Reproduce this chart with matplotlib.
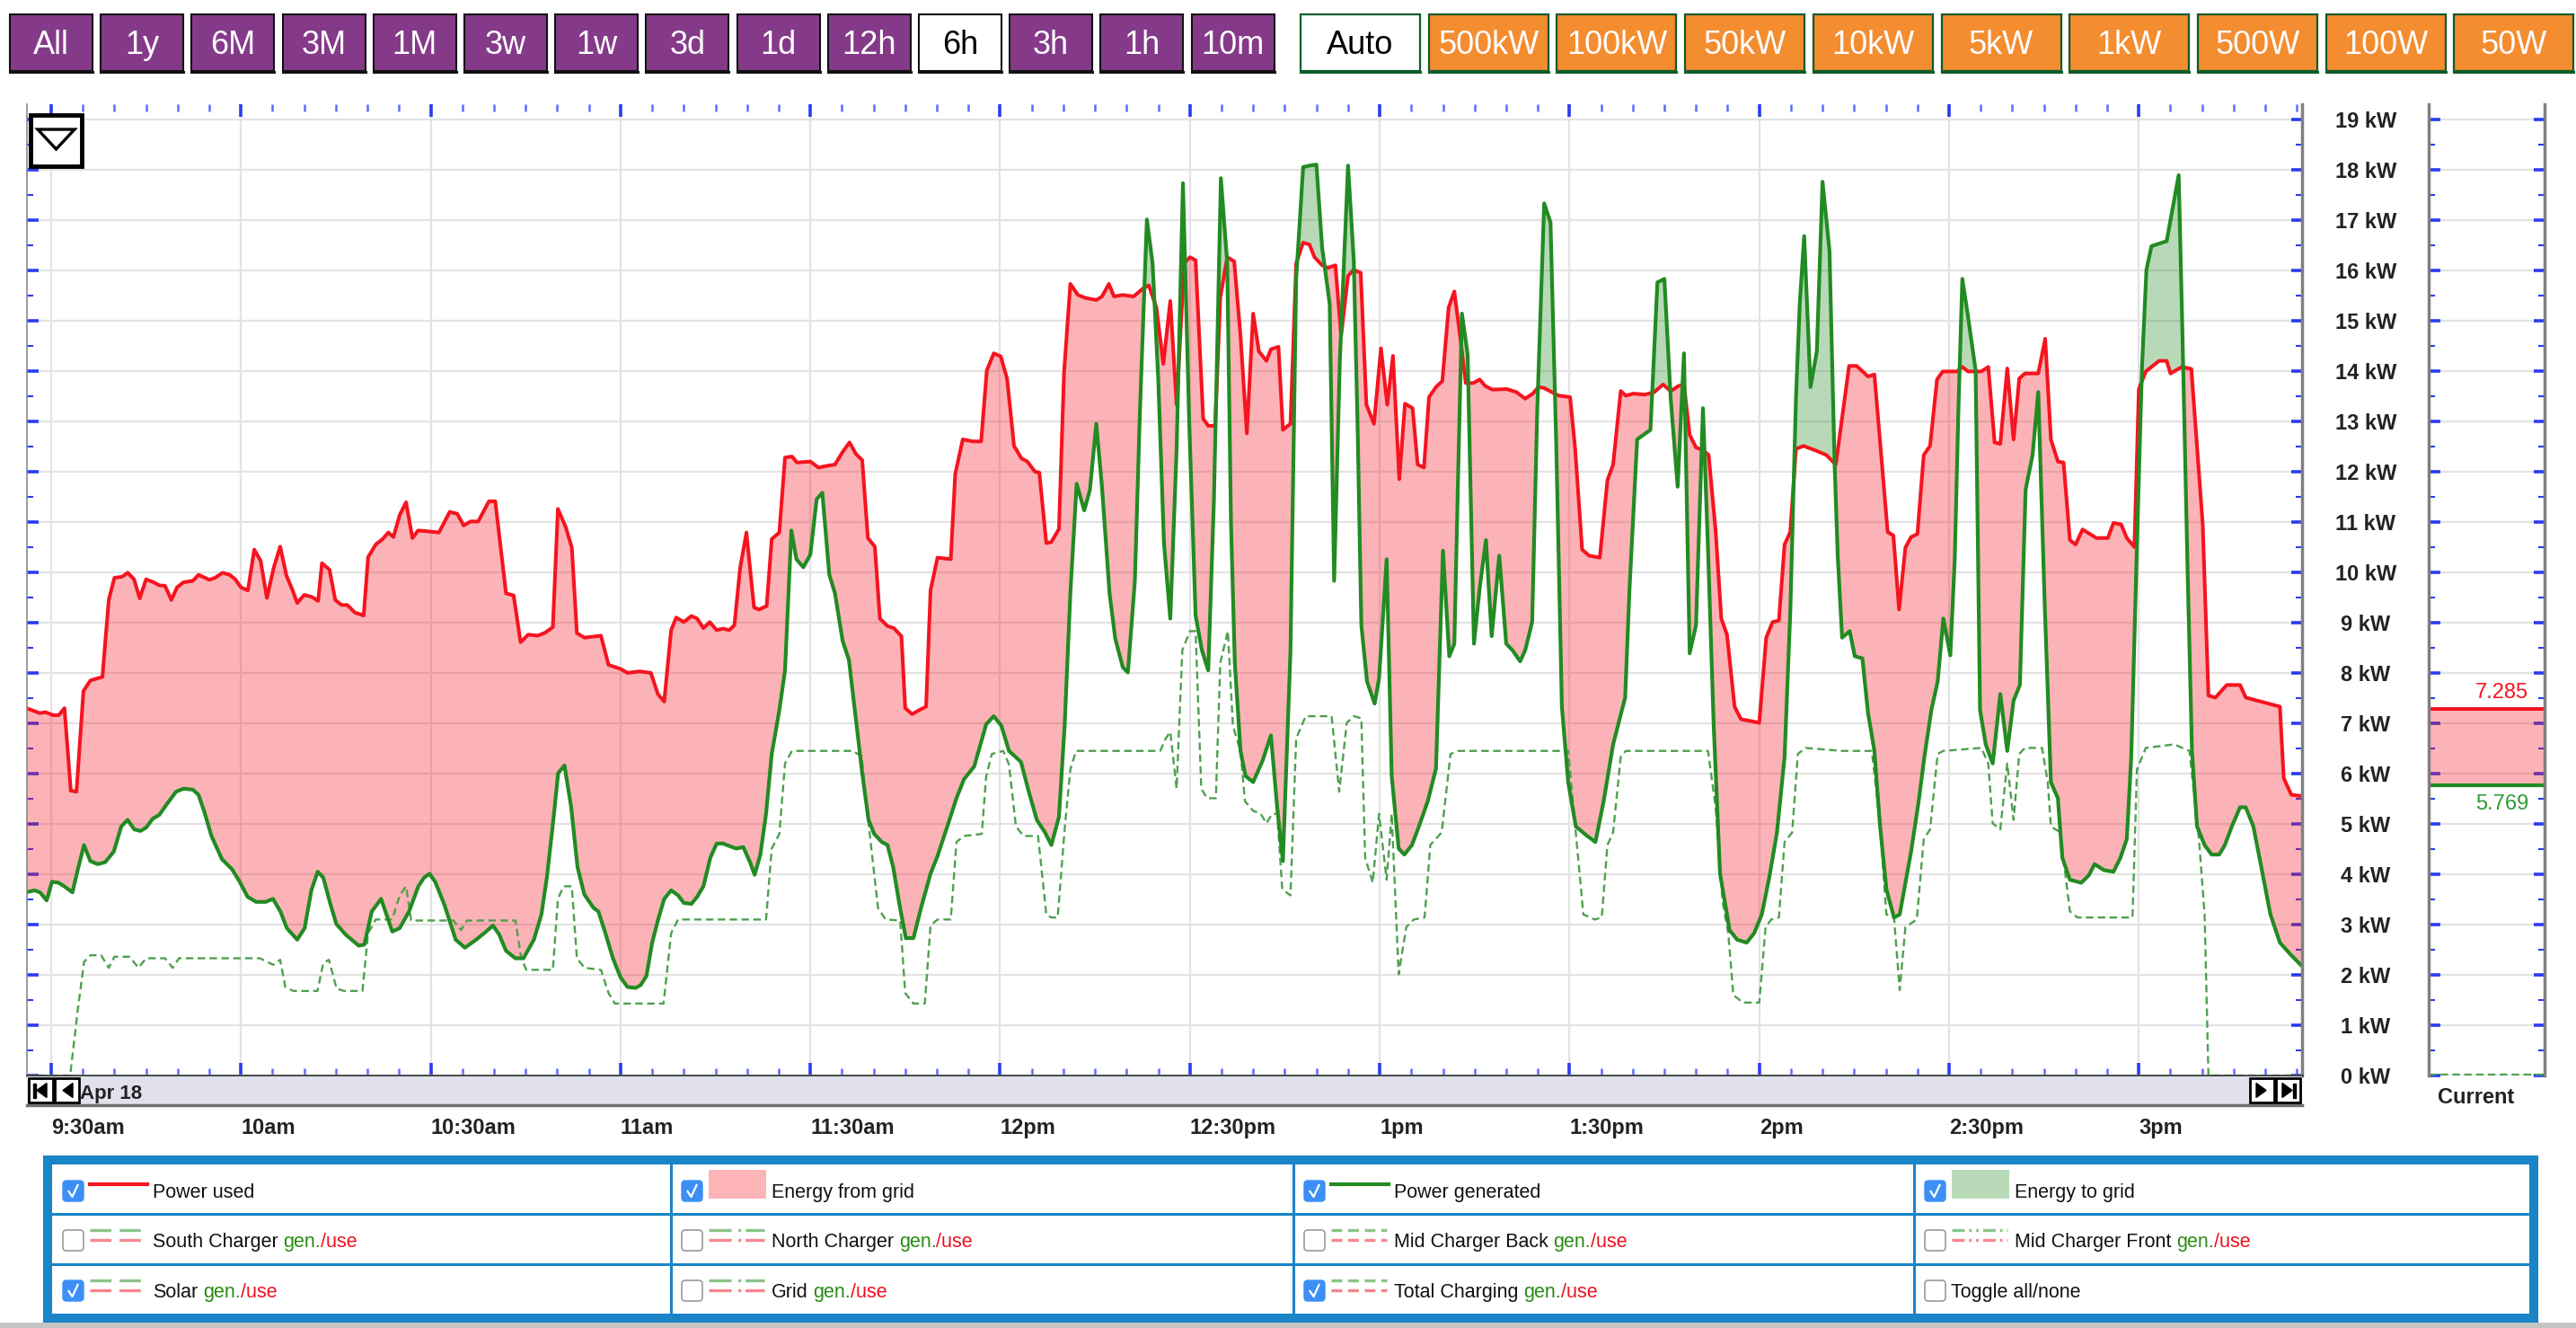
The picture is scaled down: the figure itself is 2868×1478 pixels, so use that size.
import numpy as np
import matplotlib.pyplot as plt
from matplotlib.patches import Rectangle, FancyBboxPatch, Polygon

plt.rcParams['font.family'] = ['Liberation Sans', 'DejaVu Sans']
plt.rcParams['lines.scale_dashes'] = False

# time = minutes after 9:30am (Apr 18), power in kW
used_t = [-3.9, -1.8, -0.9, 0.3, 1.2, 2.1, 3.1, 4.0, 5.1, 6.2, 8.1, 9.1, 10.0, 11.2, 12.1, 13.1, 14.0, 15.0,
          16.2, 17.1, 18.0, 19.0, 19.9, 20.9, 22.4, 23.3, 25.0, 25.9, 27.1, 28.2, 29.1, 30.0, 31.1, 32.1,
          33.1, 34.1, 35.2, 36.2, 37.2, 38.1, 38.9, 40.0, 41.2, 42.2, 42.8, 44.0, 44.9, 45.9, 46.8, 48.0,
          49.4, 50.1, 51.3, 52.4, 53.3, 54.1, 55.1, 56.1, 57.1, 58.0, 59.8, 61.3, 63.0, 64.2, 65.2, 66.3,
          67.5, 69.2, 70.2, 71.9, 73.1, 74.2, 75.4, 76.9, 78.1, 79.3, 80.1, 81.3, 82.3, 83.1, 84.3, 86.9,
          88.1, 90.0, 91.1, 93.0, 94.8, 95.9, 96.9, 98.0, 98.8, 100.0, 101.2, 102.1, 103.1, 104.1, 105.2,
          106.2, 107.2, 108.0, 108.9, 109.9, 111.1, 111.9, 113.1, 113.9, 115.1, 116.0, 117.1, 117.9, 120.0,
          121.3, 122.4, 123.9, 125.1, 126.2, 127.2, 128.2, 129.1, 130.2, 131.0, 132.2, 133.2, 134.4, 135.0,
          136.1, 137.2, 138.3, 139.0, 140.1, 142.2, 142.9, 144.1, 145.7, 147.0, 147.9, 149.0, 150.1, 151.1,
          152.2, 153.4, 154.3, 155.5, 156.2, 157.3, 158.1, 159.3, 160.1, 161.1, 162.3, 163.5, 165.2, 166.1,
          167.2, 168.0, 169.4, 171.1, 172.6, 173.5, 174.7, 175.8, 176.9, 177.9, 179.1, 180.0, 180.9, 182.1,
          182.9, 184.0, 184.8, 185.9, 187.0, 188.0, 189.0, 190.0, 190.9, 192.1, 192.8, 194.0, 194.7, 195.9,
          196.8, 197.9, 198.9, 199.7, 200.9, 201.8, 203.0, 203.9, 205.0, 205.9, 207.0, 207.9, 209.1, 210.2,
          211.2, 212.1, 213.1, 214.0, 215.2, 216.0, 217.0, 217.8, 218.9, 219.9, 220.9, 221.8, 222.7, 223.6,
          224.8, 225.8, 226.7, 227.8, 230.1, 231.6, 233.0, 234.2, 235.1, 236.0, 237.2, 238.3, 240.1, 240.9,
          242.0, 243.1, 244.8, 246.0, 246.9, 248.1, 248.9, 250.1, 251.9, 253.4, 254.8, 256.0, 257.2, 258.1,
          259.0, 260.0, 261.0, 262.0, 263.1, 264.0, 264.9, 266.1, 267.1, 270.0, 271.1, 272.1, 273.1, 274.0,
          274.9, 275.8, 277.0, 279.1, 280.6, 282.1, 284.2, 285.4, 287.2, 288.2, 289.2, 290.3, 291.2, 292.1,
          293.1, 294.0, 295.0, 296.0, 297.0, 298.1, 299.0, 301.3, 302.1, 303.0, 305.1, 306.2, 307.2, 308.1,
          309.2, 310.2, 311.1, 312.0, 314.1, 315.2, 316.1, 317.2, 318.1, 319.1, 320.0, 321.1, 323.3, 325.1,
          326.0, 327.2, 328.1, 329.3, 330.0, 331.1, 333.2, 334.4, 335.0, 336.8, 338.3, 340.1, 341.0, 342.1,
          343.9, 346.0, 346.9, 349.3, 352.3, 352.9, 354.1, 355.9]
used_kw = [7.3, 7.2, 7.22, 7.16, 7.16, 7.3, 5.66, 5.64, 7.64, 7.85, 7.92, 9.45, 9.89, 9.91, 9.99, 9.86, 9.48,
           9.86, 9.8, 9.74, 9.73, 9.45, 9.7, 9.8, 9.83, 9.95, 9.85, 9.89, 9.99, 9.95, 9.86, 9.7, 9.64, 10.45,
           10.23, 9.49, 10.1, 10.51, 9.93, 9.66, 9.39, 9.55, 9.51, 9.43, 10.18, 10.05, 9.45, 9.35, 9.35, 9.2,
           9.14, 10.3, 10.55, 10.66, 10.79, 10.7, 11.14, 11.39, 10.68, 10.83, 10.81, 10.79, 11.2, 11.16, 10.93,
           11.01, 11.01, 11.41, 11.41, 9.58, 9.54, 8.61, 8.76, 8.74, 8.8, 8.91, 11.26, 10.91, 10.49, 8.79, 8.7,
           8.74, 8.16, 8.08, 8.0, 8.03, 8.0, 7.58, 7.43, 8.85, 9.1, 9.01, 9.13, 9.08, 8.89, 9.01, 8.85, 8.88,
           8.85, 8.95, 10.08, 10.79, 9.3, 9.26, 9.33, 10.66, 10.79, 12.28, 12.3, 12.18, 12.2, 12.08, 12.11,
           12.14, 12.39, 12.58, 12.35, 12.23, 10.68, 10.51, 9.08, 8.93, 8.89, 8.73, 7.3, 7.18, 7.26, 7.33,
           9.64, 10.29, 10.26, 11.95, 12.64, 12.6, 12.6, 14.01, 14.35, 14.29, 13.85, 12.51, 12.26, 12.2, 12.0,
           11.98, 10.58, 10.6, 10.86, 13.95, 15.73, 15.51, 15.45, 15.41, 15.48, 15.73, 15.48, 15.51, 15.48,
           15.64, 15.7, 15.26, 14.14, 15.39, 13.33, 16.14, 16.26, 16.2, 13.05, 12.91, 12.91, 15.45, 16.26,
           16.18, 14.7, 12.76, 15.14, 14.39, 14.2, 14.43, 14.48, 12.83, 12.95, 16.14, 16.55, 16.51, 16.26,
           16.1, 16.05, 16.1, 14.7, 15.89, 16.01, 15.95, 13.33, 12.95, 14.45, 13.33, 14.3, 11.85, 13.35, 13.26,
           12.14, 12.08, 13.48, 13.68, 13.8, 15.26, 15.58, 14.7, 13.76, 13.76, 13.83, 13.7, 13.63, 13.64,
           13.58, 13.45, 13.55, 13.68, 13.66, 13.58, 13.51, 13.48, 12.45, 10.45, 10.33, 10.29, 11.83, 12.14,
           13.6, 13.51, 13.55, 13.53, 13.58, 13.73, 13.6, 13.7, 13.73, 12.73, 12.48, 12.43, 12.33, 10.83, 9.08,
           8.76, 7.33, 7.08, 7.01, 8.7, 9.01, 9.04, 10.55, 10.8, 12.45, 12.51, 12.41, 12.33, 12.14, 14.1, 14.1,
           13.89, 13.93, 12.45, 10.8, 10.73, 9.26, 10.49, 10.7, 10.76, 12.33, 12.51, 13.83, 13.99, 13.99,
           14.08, 13.99, 13.99, 14.08, 12.58, 12.55, 14.05, 12.64, 13.85, 13.95, 13.95, 14.64, 12.64, 12.2,
           12.18, 10.64, 10.55, 10.85, 10.68, 10.68, 10.98, 10.95, 10.68, 10.5, 13.64, 13.99, 14.2, 14.2,
           13.95, 14.08, 14.04, 10.95, 7.55, 7.51, 7.76, 7.76, 7.51, 7.43, 7.33, 5.91, 5.58, 5.55]

gen_t = [-3.9, -2.65, -1.77, -0.71, 0.12, 1.18, 2.06, 3.36, 4.3, 5.19, 6.19, 7.37, 8.54, 9.9, 11.08, 12.08,
         13.14, 14.14, 15.03, 16.03, 17.09, 18.27, 19.74, 20.92, 22.39, 23.28, 24.16, 25.34, 26.99, 28.58,
         29.76, 31.05, 32.41, 33.88, 35.06, 36.24, 37.24, 38.89, 40.07, 41.13, 42.13, 43.02, 44.08, 45.08,
         46.55, 48.62, 49.5, 50.68, 52.15, 53.92, 55.1, 56.57, 58.04, 58.93, 59.81, 60.7, 62.17, 63.94, 65.41,
         67.18, 68.65, 69.83, 70.83, 71.89, 73.37, 74.66, 76.31, 77.49, 78.37, 79.38, 80.14, 81.14, 82.2,
         83.2, 84.27, 85.74, 86.5, 87.6, 88.8, 90.0, 91.1, 92.4, 93.2, 94.1, 95.0, 95.9, 96.9, 98.0, 99.1,
         100.0, 101.2, 102.1, 103.1, 104.2, 105.2, 106.2, 107.4, 108.3, 109.4, 110.4, 111.2, 112.1, 113.0,
         113.9, 115.1, 116.0, 117.0, 117.8, 118.9, 120.0, 121.0, 121.9, 123.0, 123.9, 125.1, 126.1, 127.2,
         128.2, 129.2, 130.1, 131.3, 132.2, 133.1, 134.1, 135.1, 136.3, 137.5, 139.0, 140.1, 141.6, 143.1,
         144.3, 145.9, 146.6, 147.8, 149.0, 150.2, 151.4, 153.3, 154.4, 155.8, 157.1, 158.1, 159.3, 160.2,
         161.1, 162.1, 163.3, 164.2, 165.2, 166.1, 167.3, 168.2, 169.4, 170.2, 171.3, 172.1, 173.2, 174.1,
         175.0, 175.9, 176.9, 177.9, 178.9, 179.9, 180.9, 181.9, 182.9, 183.8, 184.9, 185.9, 186.5, 187.1,
         188.0, 188.8, 190.0, 191.5, 192.8, 193.8, 194.7, 195.9, 196.8, 197.9, 198.9, 200.0, 200.9, 202.1,
         202.8, 203.7, 205.0, 205.9, 206.5, 207.1, 208.0, 209.2, 209.9, 211.1, 211.9, 213.0, 213.9, 215.1,
         216.2, 217.6, 218.9, 220.0, 221.0, 221.8, 222.4, 223.0, 223.9, 224.9, 225.8, 226.8, 227.7, 228.9,
         230.0, 231.0, 232.2, 233.0, 234.1, 234.9, 236.0, 237.0, 237.9, 238.8, 239.8, 241.0, 242.8, 244.1,
         245.4, 246.9, 248.8, 249.5, 250.7, 252.8, 253.9, 255.0, 256.0, 257.1, 258.1, 259.0, 260.0, 261.1,
         261.9, 262.8, 263.8, 264.9, 265.3, 266.5, 268.0, 269.2, 270.4, 271.6, 272.8, 274.0, 274.9, 275.8,
         276.4, 277.1, 278.1, 279.1, 280.0, 281.1, 281.9, 282.4, 283.1, 284.3, 285.1, 286.3, 287.2, 288.2,
         289.1, 290.1, 291.3, 292.2, 293.1, 294.0, 295.2, 296.1, 297.2, 298.2, 299.1, 300.2, 300.9, 301.5,
         302.1, 303.0, 304.2, 304.9, 305.8, 306.9, 308.1, 309.2, 310.2, 311.2, 312.1, 313.2, 314.1, 315.1,
         316.1, 317.2, 317.9, 319.1, 320.9, 322.1, 323.0, 324.5, 326.0, 327.1, 328.1, 328.8, 329.6, 330.5,
         331.2, 332.0, 334.4, 336.3, 336.9, 337.7, 338.4, 339.2, 340.4, 341.5, 342.7, 343.6, 344.7, 346.0,
         346.9, 348.1, 349.3, 350.8, 352.3, 354.1, 355.9]
gen_kw = [3.64, 3.68, 3.64, 3.48, 3.85, 3.83, 3.76, 3.64, 4.14, 4.58, 4.26, 4.2, 4.24, 4.45, 4.95, 5.08, 4.89,
          4.86, 4.93, 5.1, 5.18, 5.39, 5.64, 5.7, 5.68, 5.58, 5.26, 4.76, 4.3, 4.1, 3.86, 3.55, 3.45, 3.45,
          3.51, 3.26, 2.93, 2.7, 2.93, 3.68, 4.05, 3.93, 3.43, 3.01, 2.8, 2.58, 2.6, 3.26, 3.51, 2.86, 2.93,
          3.26, 3.76, 3.93, 4.01, 3.85, 3.39, 2.7, 2.54, 2.7, 2.85, 2.98, 2.8, 2.48, 2.33, 2.33, 2.7, 3.2,
          3.95, 5.08, 6.01, 6.16, 5.33, 4.14, 3.6, 3.33, 3.26, 2.83, 2.33, 1.95, 1.76, 1.74, 1.8, 1.98, 2.64,
          3.08, 3.51, 3.68, 3.58, 3.43, 3.41, 3.55, 3.76, 4.33, 4.61, 4.61, 4.55, 4.51, 4.54, 4.26, 3.99, 4.39,
          5.2, 6.39, 7.26, 8.05, 10.83, 10.26, 10.1, 10.35, 11.45, 11.58, 9.95, 9.58, 8.64, 8.26, 7.08, 6.01,
          5.08, 4.8, 4.64, 4.58, 4.14, 3.39, 2.73, 2.73, 3.33, 4.01, 4.36, 4.93, 5.51, 5.89, 6.14, 6.45, 6.98,
          7.14, 6.95, 6.45, 6.23, 5.7, 5.08, 4.83, 4.58, 5.14, 6.95, 9.58, 11.76, 11.23, 11.64, 12.95, 11.7,
          9.58, 8.68, 8.11, 8.01, 9.83, 13.2, 17.01, 16.14, 13.83, 10.58, 9.08, 12.45, 17.73, 12.95, 9.14,
          8.45, 8.05, 11.45, 17.83, 16.14, 10.95, 8.2, 6.45, 5.95, 5.83, 6.26, 6.76, 5.33, 4.26, 8.45, 15.83,
          18.05, 18.08, 18.1, 16.45, 15.33, 9.83, 14.2, 18.08, 16.2, 12.95, 8.95, 7.83, 7.39, 7.89, 10.26,
          5.95, 4.51, 4.39, 4.58, 4.95, 5.45, 6.1, 10.43, 8.33, 8.58, 11.95, 15.14, 14.33, 8.58, 9.68, 10.64,
          8.73, 10.33, 8.58, 8.45, 8.23, 8.45, 9.01, 13.2, 17.33, 16.95, 12.58, 7.33, 5.83, 4.95, 4.76, 4.64,
          5.45, 6.58, 7.51, 9.7, 12.64, 12.83, 15.76, 15.83, 13.45, 11.7, 14.35, 8.39, 8.95, 13.26, 10.45,
          6.95, 4.01, 3.2, 2.89, 2.7, 2.64, 2.83, 3.2, 3.95, 4.83, 6.33, 9.2, 13.45, 15.33, 16.68, 13.68, 14.39,
          17.76, 16.39, 12.2, 10.33, 8.7, 8.83, 8.33, 8.29, 7.2, 6.45, 4.95, 3.7, 3.14, 3.2, 3.83, 4.45, 5.45,
          6.33, 7.26, 7.83, 9.08, 8.35, 10.26, 13.33, 15.83, 15.08, 14.01, 7.26, 6.58, 6.2, 7.58, 6.45, 7.45,
          7.76, 11.64, 12.33, 13.58, 9.45, 5.83, 5.51, 4.33, 3.89, 3.83, 3.98, 4.2, 4.08, 4.05, 4.33, 4.7,
          6.33, 10.08, 14.08, 16.01, 16.48, 16.58, 17.89, 14.7, 10.08, 6.45, 4.95, 4.58, 4.39, 4.39, 4.58,
          4.95, 5.33, 5.33, 4.95, 4.18, 3.2, 2.64, 2.39, 2.16]

charge_t = [-3.9, 3.0, 4.2, 5.2, 6.2, 7.9, 9.1, 10.0, 12.4, 13.8, 15.0, 18.0, 19.2, 20.2, 33.0, 35.1, 36.2, 37.0,
            38.3, 42.1, 43.0, 43.9, 45.1, 46.3, 49.2, 50.1, 51.3, 53.9, 55.1, 56.1, 56.9, 63.6, 64.8, 65.7,
            73.4, 74.3, 75.1, 79.3, 80.1, 81.0, 82.3, 83.1, 84.3, 86.9, 88.1, 89.1, 96.8, 98.0, 99.1, 113.0,
            113.9, 115.1, 116.0, 117.1, 126.6, 128.1, 129.2, 130.7, 131.9, 134.2, 135.0, 136.3, 138.1, 139.0,
            140.1, 142.2, 143.1, 144.3, 147.1, 147.8, 148.7, 150.5, 151.4, 152.5, 153.7, 156.0, 157.3, 158.1,
            159.1, 160.2, 161.1, 162.0, 175.3, 176.2, 176.9, 177.9, 178.8, 180.0, 180.9, 181.8, 182.7, 184.1,
            184.8, 186.0, 186.8, 188.0, 188.7, 190.0, 191.2, 192.1, 193.0, 193.8, 194.6, 195.9, 196.8, 198.3,
            202.4, 203.6, 204.8, 205.9, 207.1, 207.7, 208.9, 209.9, 211.1, 211.9, 213.0, 214.2, 215.4, 217.1,
            218.0, 219.8, 221.2, 222.4, 239.8, 241.0, 242.2, 244.0, 245.1, 246.0, 246.9, 248.1, 248.9, 261.9,
            263.1, 264.2, 265.1, 265.9, 267.4, 270.0, 271.0, 271.9, 273.1, 274.0, 275.2, 276.1, 277.3, 283.0,
            287.8, 289.0, 290.1, 291.3, 292.2, 293.1, 294.9, 296.0, 297.0, 298.2, 299.1, 305.1, 306.2, 306.9,
            308.1, 309.2, 310.2, 311.1, 312.0, 314.7, 315.6, 316.1, 317.6, 319.1, 320.3, 329.0, 329.7, 331.1,
            335.6, 338.0, 339.5, 340.4, 341.0, 355.9]
charge_kw = [0.0, 0.0, 1.3, 2.26, 2.39, 2.39, 2.14, 2.36, 2.36, 2.14, 2.33, 2.33, 2.14, 2.33, 2.33, 2.2, 2.3,
             1.76, 1.68, 1.68, 2.23, 2.3, 1.73, 1.68, 1.68, 2.83, 3.1, 3.1, 3.58, 3.76, 3.08, 3.08, 2.89, 3.08,
             3.08, 2.33, 2.1, 2.1, 3.51, 3.76, 3.76, 2.33, 2.14, 2.1, 1.64, 1.43, 1.43, 2.83, 3.1, 3.1, 4.51,
             4.8, 6.2, 6.45, 6.45, 6.35, 5.01, 3.33, 3.1, 3.08, 1.64, 1.43, 1.43, 2.98, 3.1, 3.1, 4.64, 4.76,
             4.8, 5.95, 6.39, 6.45, 6.18, 4.95, 4.76, 4.76, 3.2, 3.14, 3.14, 4.89, 6.08, 6.45, 6.45, 6.7, 6.83,
             5.7, 8.45, 8.83, 8.83, 5.7, 5.51, 5.51, 8.2, 8.83, 6.95, 6.45, 5.45, 5.26, 5.2, 5.01, 5.2, 5.2,
             3.7, 3.58, 6.7, 7.14, 7.14, 5.64, 7.01, 7.14, 7.1, 4.33, 3.83, 5.2, 3.89, 5.2, 2.01, 2.95, 3.1,
             3.14, 4.58, 4.83, 6.39, 6.45, 6.45, 4.83, 3.2, 3.1, 3.14, 4.58, 4.83, 6.33, 6.45, 6.45, 5.33,
             3.45, 2.83, 1.6, 1.45, 1.45, 2.95, 3.1, 3.14, 4.64, 4.83, 6.39, 6.51, 6.45, 6.45, 5.08, 3.2, 3.14,
             1.7, 2.95, 3.1, 4.7, 4.89, 6.39, 6.45, 6.51, 6.2, 5.01, 4.89, 6.2, 5.08, 6.39, 6.51, 6.51, 5.83,
             4.95, 4.83, 3.26, 3.14, 3.14, 6.08, 6.51, 6.58, 6.45, 4.7, 3.2, 0.0, 0.0]

current_used = 7.285
current_gen = 5.769

time_labels = ['9:30am', '10am', '10:30am', '11am', '11:30am', '12pm', '12:30pm',
               '1pm', '1:30pm', '2pm', '2:30pm', '3pm']
period_buttons = ['All', '1y', '6M', '3M', '1M', '3w', '1w', '3d', '1d', '12h', '6h', '3h', '1h', '10m']
scale_buttons = ['Auto', '500kW', '100kW', '50kW', '10kW', '5kW', '1kW', '500W', '100W', '50W']
legend_items = [
    [(True, 'line_r', 'Power used', False), (True, 'fill_r', 'Energy from grid', False),
     (True, 'line_g', 'Power generated', False), (True, 'fill_g', 'Energy to grid', False)],
    [(False, 'long', 'South Charger', True), (False, 'dashdot', 'North Charger', True),
     (False, 'short', 'Mid Charger Back', True), (False, 'dashdotdot', 'Mid Charger Front', True)],
    [(True, 'long', 'Solar', True), (False, 'dashdot', 'Grid', True),
     (True, 'short', 'Total Charging', True), (False, None, 'Toggle all/none', False)],
]

RED = '#f5141f'
GREEN = '#228b22'
DASHGREEN = '#4f9f4f'
TICKBLUE = '#2a3cf0'
W, H = 2868, 1478


def box(x0, y0, x1, y1):
    return [x0 / W, 1 - y1 / H, (x1 - x0) / W, (y1 - y0) / H]


fig = plt.figure(figsize=(W / 100, H / 100), dpi=100)

# ---- main chart
ax = fig.add_axes(box(30, 116, 2563, 1197))
ax.set_xlim(-3.83, 355.8)
ax.set_ylim(0, 19.3)
ax.set_axisbelow(True)

tt = np.union1d(used_t, gen_t)
u = np.interp(tt, used_t, used_kw)
g = np.interp(tt, gen_t, gen_kw)
ax.fill_between(tt, g, u, where=u >= g, interpolate=True, color=RED, alpha=0.32, lw=0)
ax.fill_between(tt, u, g, where=g > u, interpolate=True, color=GREEN, alpha=0.32, lw=0)
ax.plot(charge_t, charge_kw, color=DASHGREEN, lw=1.7, dashes=(6, 3.5))
ax.plot(used_t, used_kw, color=RED, lw=2.9)
ax.plot(gen_t, gen_kw, color=GREEN, lw=3.0)

ax.set_xticks(np.arange(0, 331, 30))
ax.set_xticklabels(time_labels, ha='left', va='baseline', fontsize=17, fontweight='bold', color='#222222')
ax.set_xticks(np.arange(5, 356, 5), minor=True)
ax.set_yticks(range(20))
ax.set_yticklabels([f'{v} kW' for v in range(20)], ha='center', fontsize=17, fontweight='bold',
                   color='#222222')
ax.set_yticks(np.arange(0.5, 19.3, 1), minor=True)
ax.tick_params(axis='x', which='major', direction='in', length=10, width=2.6, color=TICKBLUE,
               top=True, bottom=True, labeltop=False, pad=47)
ax.tick_params(axis='x', which='minor', direction='in', length=6, width=1.8, color='#5b6cff',
               top=True, bottom=True)
ax.tick_params(axis='y', which='major', direction='in', length=9, width=2.6, color=TICKBLUE,
               left=True, right=True, labelleft=False, labelright=True, pad=51)
ax.tick_params(axis='y', which='minor', direction='in', length=5, width=1.5, color=TICKBLUE,
               left=True, right=True)
ax.grid(True, which='major', color='#e3e3e3', lw=1.6)
ax.spines['top'].set_visible(False)
ax.spines['left'].set_color('#8a8a8a')
ax.spines['left'].set_linewidth(1.2)
ax.spines['right'].set_color('#808080')
ax.spines['right'].set_linewidth(2.5)
ax.spines['bottom'].set_color('#444444')
ax.spines['bottom'].set_linewidth(2)

# ---- navigator strip
nav = fig.add_axes(box(30, 1198, 2563, 1230))
nav.set_facecolor('#e1e1ee')
nav.set_xticks([])
nav.set_yticks([])
for s in ['left', 'right', 'top']:
    nav.spines[s].set_visible(False)
nav.spines['bottom'].set_color('#6f6f6f')
nav.spines['bottom'].set_linewidth(2.5)
nav.text((89 - 30) / 2533, 0.22, 'Apr 18', transform=nav.transAxes, fontsize=16, fontweight='bold',
         color='#222222', ha='left', va='baseline')

# ---- "Current" panel
cur = fig.add_axes(box(2704, 116, 2833, 1197))
cur.set_xlim(0, 1)
cur.set_ylim(0, 19.3)
cur.set_axisbelow(True)
cur.axhspan(current_gen, current_used, color=RED, alpha=0.32, lw=0)
cur.axhline(current_used, color=RED, lw=2.9)
cur.axhline(current_gen, color=GREEN, lw=3.0)
cur.axhline(0.02, color=DASHGREEN, lw=1.7, dashes=(6, 3.5))
cur.text(0.86, current_used + 0.22, f'{current_used:.3f}', color=RED, fontsize=17, ha='right', va='baseline')
cur.text(0.86, current_gen - 0.18, f'{current_gen:.3f}', color='#2f9a2f', fontsize=17, ha='right', va='top')
cur.set_xticks([])
cur.set_yticks(range(20))
cur.set_yticks(np.arange(0.5, 19.3, 1), minor=True)
cur.tick_params(axis='y', which='major', direction='in', length=9, width=2.6, color=TICKBLUE,
                left=True, right=True, labelleft=False)
cur.tick_params(axis='y', which='minor', direction='in', length=5, width=1.5, color=TICKBLUE,
                left=True, right=True)
cur.grid(True, axis='y', color='#e3e3e3', lw=1.6)
for s in ['top', 'bottom']:
    cur.spines[s].set_visible(False)
for s in ['left', 'right']:
    cur.spines[s].set_color('#808080')
    cur.spines[s].set_linewidth(2.5)
cur.text((2757 - 2704) / 129, -(1228 - 1197) / 1081, 'Current', transform=cur.transAxes, fontsize=17,
         fontweight='bold', color='#222222', ha='center', va='baseline')

# ---- page chrome drawn in pixel space
ov = fig.add_axes([0, 0, 1, 1], zorder=10)
ov.set_xlim(0, W)
ov.set_ylim(H, 0)
ov.axis('off')

for i, lab in enumerate(period_buttons):
    x0 = 11 + i * 101.2
    sel = lab == '6h'
    ov.add_patch(Rectangle((x0, 16), 92, 63, facecolor='white' if sel else '#853a89',
                           edgecolor='#111111', lw=1.5))
    ov.plot([x0, x0 + 92], [79.5, 79.5], color='#111111', lw=2.2)
    ov.text(x0 + 46, 60, lab, ha='center', va='baseline', fontsize=26,
            color='black' if sel else 'white')

for i, lab in enumerate(scale_buttons):
    x0 = 1448 + i * 142.7
    sel = lab == 'Auto'
    ov.add_patch(Rectangle((x0, 16), 133, 63, facecolor='white' if sel else '#f48c30',
                           edgecolor='#0d5c2a', lw=1.6))
    ov.plot([x0, x0 + 133], [79.5, 79.5], color='#0d5c2a', lw=2.2)
    ov.text(x0 + 66.5, 60, lab, ha='center', va='baseline', fontsize=26,
            color='black' if sel else 'white')

# dropdown icon in the chart corner
ov.add_patch(Rectangle((34, 128), 57, 57, facecolor='white', edgecolor='black', lw=3.5))
ov.add_patch(Polygon([(42, 144), (83, 144), (62.5, 166)], closed=True, fill=False,
                     edgecolor='black', lw=2.4))

# navigator buttons
def nav_button(x0, kind):
    ov.add_patch(Rectangle((x0, 1200), 27, 27, facecolor='white', edgecolor='black', lw=2))
    cy = 1213.5
    if kind in ('first', 'prev'):
        ov.add_patch(Polygon([(x0 + 20, cy - 8), (x0 + 20, cy + 8), (x0 + 9, cy)], color='black'))
        if kind == 'first':
            ov.add_patch(Rectangle((x0 + 5, cy - 8), 3, 16, color='black'))
    else:
        ov.add_patch(Polygon([(x0 + 7, cy - 8), (x0 + 7, cy + 8), (x0 + 18, cy)], color='black'))
        if kind == 'last':
            ov.add_patch(Rectangle((x0 + 19, cy - 8), 3, 16, color='black'))


nav_button(32, 'first')
nav_button(61, 'prev')
nav_button(2505, 'next')
nav_button(2534, 'last')

# legend table
BLUE = '#1a84c7'
ov.add_patch(Rectangle((48, 1286), 2778, 186, facecolor=BLUE, lw=0))
ov.add_patch(Rectangle((58, 1296), 2758, 166, facecolor='white', lw=0))
for y in (1351, 1407):
    ov.plot([58, 2816], [y, y], color=BLUE, lw=2.2)
for x in (747, 1440, 2131):
    ov.plot([x, x], [1296, 1462], color=BLUE, lw=2.2)
ov.add_patch(Rectangle((0, 1472), W, 6, facecolor='#c4c4c4', lw=0))

cell_left = [58, 747, 1440, 2131]
row_top = [1296, 1351, 1407]
dash_styles = {'long': (17, 6.5), 'dashdot': (18, 5.5, 2.2, 3.6), 'short': (8.6, 4.7),
               'dashdotdot': (10, 3.6, 2, 3.6, 2, 3.6)}
renderer = fig.canvas.get_renderer()


def checkbox(x, y, checked):
    if checked:
        ov.add_patch(FancyBboxPatch((x, y), 23, 23, boxstyle='round,pad=0,rounding_size=4',
                                    facecolor='#3d8ff5', edgecolor='#3d8ff5', lw=1))
        ov.plot([x + 6.5, x + 10.5, x + 16.5], [y + 12, y + 18, y + 5], color='white', lw=1.6)
    else:
        ov.add_patch(FancyBboxPatch((x, y), 23, 23, boxstyle='round,pad=0,rounding_size=4',
                                    facecolor='white', edgecolor='#9a9a9a', lw=1.2))


for r, row in enumerate(legend_items):
    top = row_top[r]
    for c, (checked, icon, label, genuse) in enumerate(row):
        left = cell_left[c]
        checkbox(left + 12, top + 18, checked)
        ix = left + 42
        if icon == 'line_r':
            ov.plot([ix, ix + 64], [top + 22, top + 22], color=RED, lw=3)
        elif icon == 'line_g':
            ov.plot([ix, ix + 64], [top + 22, top + 22], color=GREEN, lw=3)
        elif icon == 'fill_r':
            ov.add_patch(Rectangle((ix, top + 6), 64, 32, facecolor='#fcb4b7', lw=0))
        elif icon == 'fill_g':
            ov.add_patch(Rectangle((ix, top + 6), 64, 32, facecolor='#b8dab8', lw=0))
        elif icon is not None:
            ov.plot([ix, ix + 62], [top + 18, top + 18], color='#8cc489', lw=2.4,
                    dashes=dash_styles[icon])
            ov.plot([ix, ix + 62], [top + 29, top + 29], color='#f4868e', lw=2.4,
                    dashes=dash_styles[icon])
        tx = left + 112 if icon is not None else left + 41
        t = ov.text(tx, top + 37, label, fontsize=15.5, color='#111111', va='baseline')
        if genuse:
            tx += t.get_window_extent(renderer).width + 5.5
            t2 = ov.text(tx, top + 37, 'gen.', fontsize=15.5, color='#2a8a14', va='baseline')
            tx += t2.get_window_extent(renderer).width
            ov.text(tx, top + 37, '/use', fontsize=15.5, color='#f0101e', va='baseline')

fig.savefig('out.png', dpi=100)
